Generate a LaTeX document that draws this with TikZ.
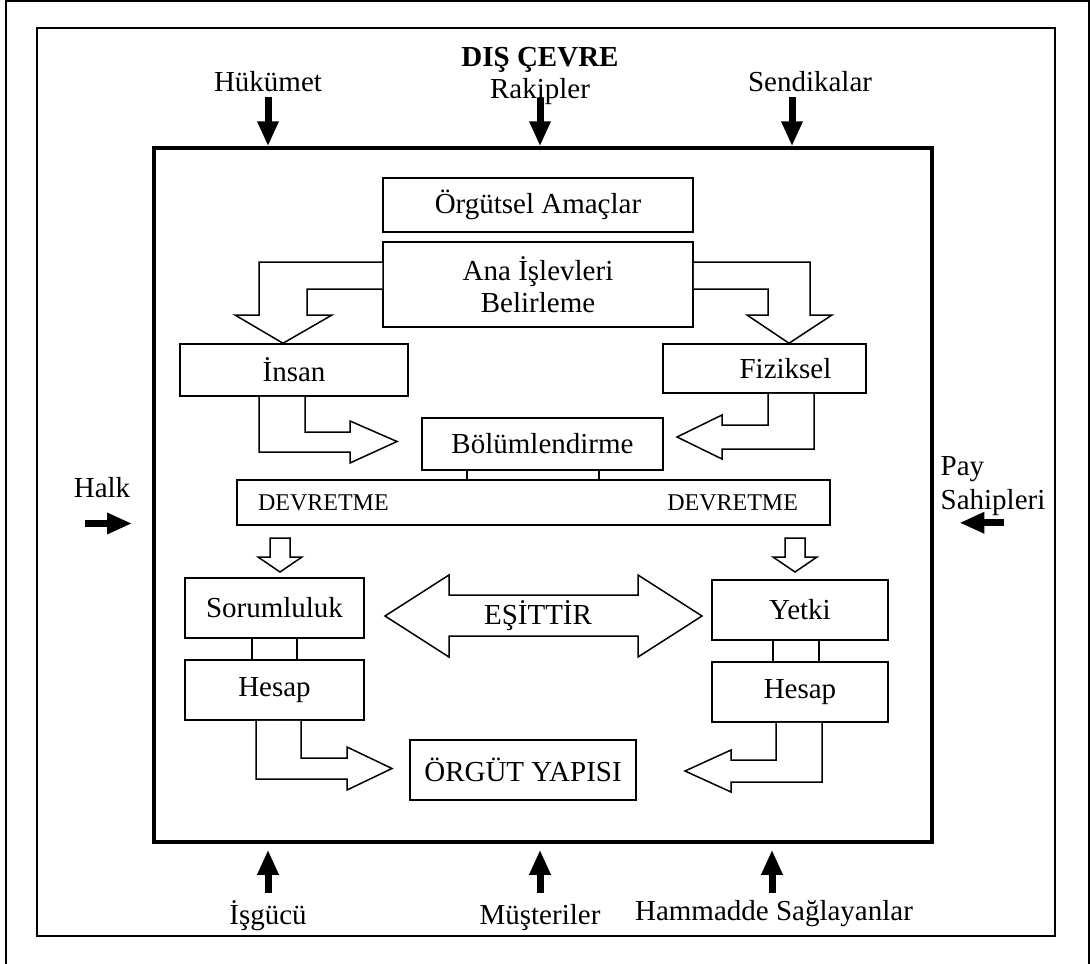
\documentclass[tikz,border=0pt]{standalone}
\usepackage{fontspec}
\setmainfont{Liberation Serif}
\usepackage{tikz}
\usetikzlibrary{arrows.meta,calc}
\tikzset{
  unit/.style={draw, line width=1.5pt, inner sep=0pt, align=center, font=\fontsize{29}{32}\selectfont},
  hollow/.style={draw, line width=1.5pt, fill=white, line join=miter},
  push/.style={line width=7pt, -{Triangle[length=25pt,width=20pt]}},
  lab/.style={inner sep=0pt, font=\fontsize{29}{34}\selectfont},
  tie/.style={line width=1.5pt},
}

\begin{document}
\begin{tikzpicture}[x=1pt,y=-1pt]
\useasboundingbox (0,0) rectangle (1090,964);
% frames
\draw[line width=1.5pt] (6,964) -- (6,1) -- (1089,1) -- (1089,964);
\draw[line width=1.5pt] (37,28) rectangle (1055,936);
\node[draw, line width=3.5pt, minimum width=778pt, minimum height=694pt] (org) at (543,495) {};

% outside
\node[lab, font=\fontsize{29}{34}\selectfont\bfseries, anchor=base] (cevre) at (540,66) {DIŞ ÇEVRE};
\node[lab, anchor=base] (hukumet) at (268,91) {Hükümet};
\node[lab, anchor=base] (rakip) at (540,98) {Rakipler};
\node[lab, anchor=base] (sendika) at (810,91) {Sendikalar};
\node[lab, anchor=base] (halk) at (102,497) {Halk};
\node[lab, align=left, anchor=center] (paysah) at (993,486) {Pay\\Sahipleri};
\node[lab, anchor=base] (isgucu) at (268,924) {İşgücü};
\node[lab, anchor=base] (musteri) at (540,924) {Müşteriler};
\node[lab, anchor=base] (hammadde) at (774,920) {Hammadde Sağlayanlar};

\draw[push] (hukumet.south |- 0,97) -- (hukumet.south |- org.north);
\draw[push] (rakip.base) -- (rakip.base |- org.north);
\draw[push] (792,97) -- (792,0 |- org.north);
\draw[push] ($(halk.south)+(-17,26)$) -- ++(47,0);
\draw[push] ($(paysah.south west)+(64,7)$) -- ++(-45,0);
\draw[push, shorten >=6pt] (isgucu.north |- 0,893) -- (isgucu.north |- org.south);
\draw[push, shorten >=6pt] (musteri.north |- 0,893) -- (musteri.north |- org.south);
\draw[push, shorten >=6pt] (772,893) -- (772,0 |- org.south);

% boxes
\node[unit, minimum width=310pt, minimum height=54pt] (amac) at (538,205) {Örgütsel Amaçlar};
\node[unit, minimum width=310pt, minimum height=85pt] (ana) at (538,284.5) {Ana İşlevleri\\Belirleme};
\node[unit, minimum width=228pt, minimum height=52pt] (insan) at (294,370) {İnsan};
\node[unit, minimum width=203pt, minimum height=49pt] (fiz) at (764.5,368.5) {\hspace*{42pt}Fiziksel};
\node[unit, minimum width=241pt, minimum height=52pt] (bolum) at (542.5,444) {Bölümlendirme};
\node[unit, minimum width=593pt, minimum height=45pt, font=\fontsize{24}{28}\selectfont] (devret) at (533.5,502.5) {\hspace*{-11pt}DEVRETME\hspace{278.6pt}DEVRETME};
\node[unit, minimum width=179pt, minimum height=60pt] (sorum) at (274.5,608) {Sorumluluk};
\node[unit, minimum width=179pt, minimum height=60pt] (hesapA) at (274.5,690) {Hesap};
\node[unit, minimum width=176pt, minimum height=60pt] (yetki) at (800,610) {Yetki};
\node[unit, minimum width=176pt, minimum height=60pt] (hesapB) at (800,692) {Hesap};
\node[unit, minimum width=226pt, minimum height=60pt] (orgut) at (523,770) {ÖRGÜT YAPISI};

% ties
\draw[tie] (bolum.south -| 467,0) -- (devret.north -| 467,0);
\draw[tie] (bolum.south -| 599,0) -- (devret.north -| 599,0);
\draw[tie] (sorum.south -| 252,0) -- (hesapA.north -| 252,0);
\draw[tie] (sorum.south -| 297,0) -- (hesapA.north -| 297,0);
\draw[tie] (yetki.south -| 773,0) -- (hesapB.north -| 773,0);
\draw[tie] (yetki.south -| 819,0) -- (hesapB.north -| 819,0);

% block arrows
\draw[hollow] (ana.west |- 0,262) -- (259,262) -- (259,315) -- (235,315) -- (insan.north -| 283,0) -- (332,315) -- (307,315) -- (307,289) -- (ana.west |- 0,289);
\draw[hollow] (ana.east |- 0,262) -- (810,262) -- (810,315) -- (832,315) -- (fiz.north -| 789,0) -- (747,315) -- (768,315) -- (768,289) -- (ana.east |- 0,289);
\draw[hollow] (insan.south -| 259,0) -- (259,452) -- (350,452) -- (350,463) -- (397,441.5) -- (350,421) -- (350,432) -- (305,432) -- (insan.south -| 305,0);
\draw[hollow] (fiz.south -| 814,0) -- (814,449) -- (722,449) -- (722,459) -- (677,437) -- (722,415) -- (722,425) -- (768,425) -- (fiz.south -| 768,0);
\draw[hollow] (270,538) -- (270,557) -- (258,557) -- (280,572) -- (302,557) -- (290,557) -- (290,538) -- cycle;
\draw[hollow] (785,538) -- (785,557) -- (773,557) -- (795,572) -- (817,557) -- (805,557) -- (805,538) -- cycle;
\draw[hollow] (385,616) -- (449,575) -- (449,595) -- (638,595) -- (638,575) -- (702,616) -- (638,657) -- (638,636) -- (449,636) -- (449,657) -- cycle;
\node[lab] (esit) at (538,616) {EŞİTTİR};
\draw[hollow] (hesapA.south -| 256,0) -- (256,779) -- (347,779) -- (347,790) -- (392,768.5) -- (347,747) -- (347,758) -- (301,758) -- (hesapA.south -| 301,0);
\draw[hollow] (hesapB.south -| 822,0) -- (822,782) -- (731,782) -- (731,792) -- (685,771) -- (731,750) -- (731,760) -- (776,760) -- (hesapB.south -| 776,0);
\end{tikzpicture}
\end{document}
